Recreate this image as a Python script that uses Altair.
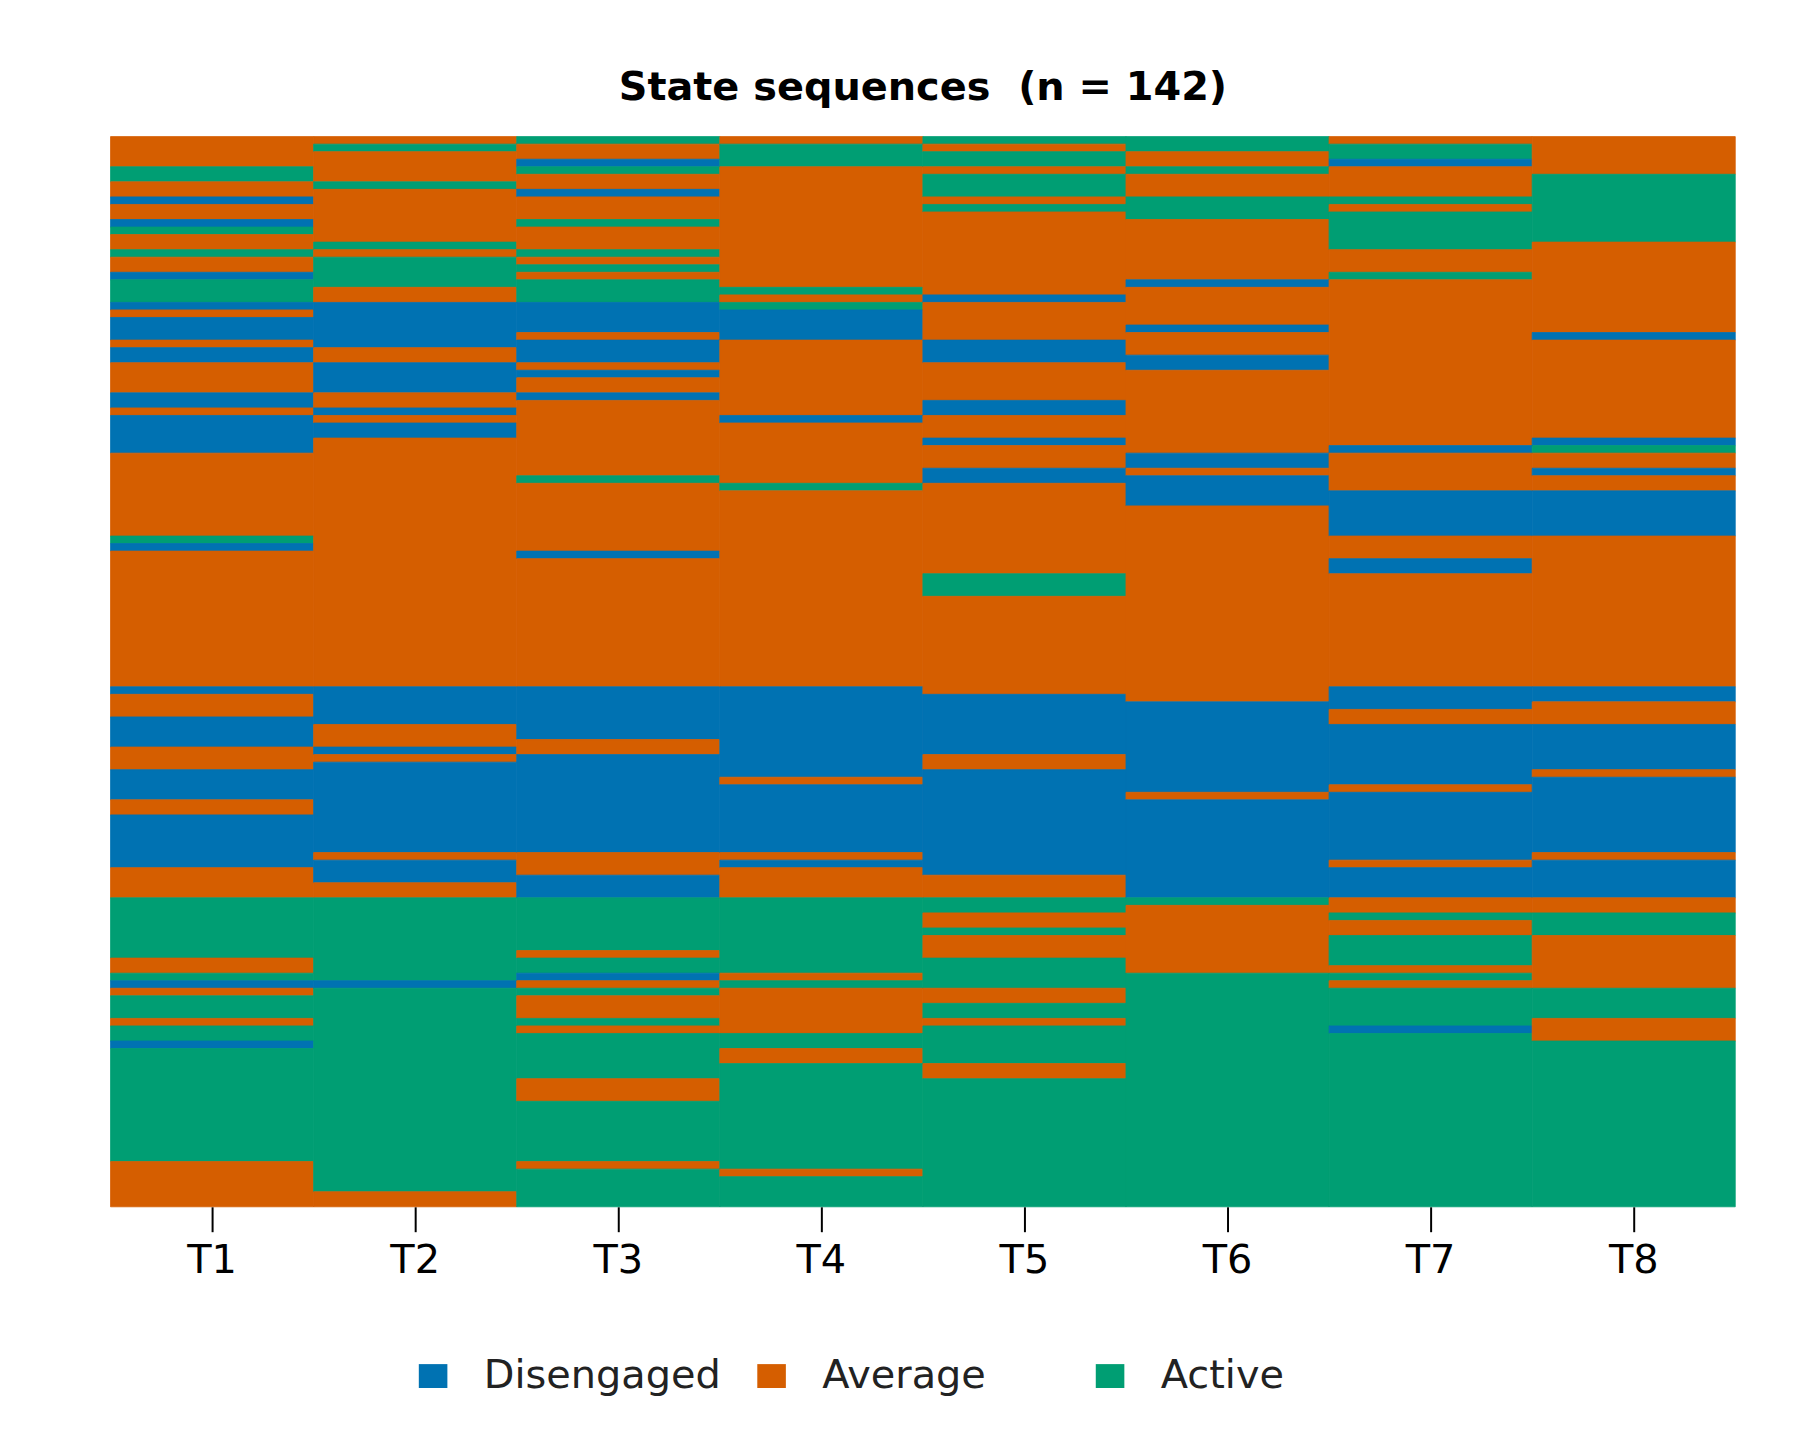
import altair as alt
import pandas as pd

# Time points (x axis) and states
times = ["T1", "T2", "T3", "T4", "T5", "T6", "T7", "T8"]
states = ["Disengaged", "Average", "Active"]
colors = ["#0072B2", "#D55E00", "#009E73"]
codes = {"D": "Disengaged", "M": "Average", "A": "Active"}

# Run-length coded state of the 142 sequences at each time point, read top to bottom
# (D = Disengaged, M = Average, A = Active; number = count of consecutive sequences)
runs_T1 = "M4 A2 M2 D1 M2 D1 A1 M2 A1 M2 D1 A3 D1 M1 D3 M1 D2 M4 D2 M1 D5 M11 A1 D1 M18 D1 M3 D4 M3 D4 M2 D7 M4 A8 M2 A1 D1 M1 A3 M1 A2 D1 A15 M6"
runs_T2 = "M1 A1 M4 A1 M7 A1 M1 A4 M2 D6 M2 D4 M2 D1 M1 D2 M33 D5 M3 D1 M1 D12 M1 D3 M2 A11 D1 A27 M2"
runs_T3 = "A1 M2 D1 A1 M2 D1 M3 A1 M3 A1 M1 A1 M1 A3 D4 M1 D3 M1 D1 M2 D1 M10 A1 M9 D1 M17 D7 M2 D13 M3 D3 A7 M1 A2 D1 M1 A1 M3 A1 M1 A6 M3 A8 M1 A5"
runs_T4 = "M1 A3 M16 A1 M1 A1 D4 M10 D1 M8 A1 M26 D12 M1 D9 M1 D1 M4 A10 M1 A1 M6 A2 M2 A14 M1 A4"
runs_T5 = "A1 M1 A2 M1 A3 M1 A1 M11 D1 M5 D3 M5 D2 M3 D1 M3 D2 M12 A3 M13 D8 M2 D14 M3 A2 M2 A1 M3 A4 M2 A2 M1 A5 M2 A17"
runs_T6 = "A2 M2 A1 M3 A3 M8 D1 M5 D1 M3 D2 M11 D2 M1 D4 M26 D12 M1 D13 A1 M9 A31"
runs_T7 = "M1 A2 D1 M4 A1 M1 A5 M3 A1 M22 D1 M5 D6 M3 D2 M15 D3 M2 D8 M1 D9 M1 D4 M2 A1 M2 A4 M1 A1 M1 A5 D1 A23"
runs_T8 = "M5 A9 M12 D1 M13 D1 A1 M2 D1 M2 D6 M20 D2 M3 D6 M1 D10 M1 D5 M2 A3 M7 A4 M3 A22"

n_seq = 142
all_runs = [runs_T1, runs_T2, runs_T3, runs_T4, runs_T5, runs_T6, runs_T7, runs_T8]

records = []
for t, runs in zip(times, all_runs):
    pos = 0
    for tok in runs.split():
        cnt = int(tok[1:])
        records.append({"time": t, "state": codes[tok[0]], "start": pos, "end": pos + cnt})
        pos += cnt

df = pd.DataFrame(records)

font = "DejaVu Sans"
state_scale = alt.Scale(domain=states, range=colors)

chart = alt.Chart(df).mark_rect(strokeWidth=0.8).encode(
    x=alt.X(
        "time:O",
        sort=times,
        scale=alt.Scale(paddingInner=0, paddingOuter=0),
        axis=alt.Axis(
            title=None,
            labelAngle=0,
            labelFont=font,
            labelFontSize=40,
            labelColor="black",
            tickSize=25,
            tickWidth=2,
            tickColor="black",
            domain=False,
            labelBaseline="alphabetic",
            labelPadding=41,
        ),
    ),
    y=alt.Y(
        "start:Q",
        scale=alt.Scale(domain=[0, n_seq], reverse=True, nice=False, zero=False),
        axis=None,
    ),
    y2="end:Q",
    stroke=alt.Stroke("state:N", scale=state_scale, legend=None),
    color=alt.Color(
        "state:N",
        scale=state_scale,
        legend=alt.Legend(
            orient="none",
            legendX=304,
            legendY=1225,
            direction="horizontal",
            columns=3,
            gridAlign="all",
            columnPadding=30,
            title=None,
            labelFont=font,
            labelFontSize=40,
            labelColor="#222222",
            labelOffset=31,
            labelLimit=500,
            symbolType="M-1,-0.836H1V0.836H-1Z",
            symbolSize=824,
            symbolStrokeWidth=0,
            symbolOpacity=1,
            padding=0,
        ),
    ),
).properties(
    width=1632,
    height=1075,
    title=alt.TitleParams(
        "State sequences\u00a0 (n = 142)",
        font=font,
        fontSize=40,
        fontWeight="bold",
        color="black",
        anchor="middle",
        frame="group",
        baseline="alphabetic",
        offset=33,
        dy=37,
    ),
    padding={"left": 103, "top": 126, "right": 57, "bottom": 220},
    autosize=alt.AutoSizeParams(type="none"),
).configure_view(stroke=None)

chart.save("out.html", embed_options={"renderer": "svg", "actions": False})
